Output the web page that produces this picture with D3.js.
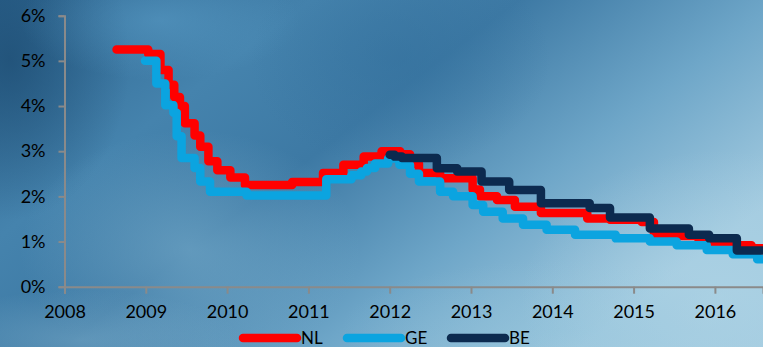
<!DOCTYPE html>
<html><head><meta charset="utf-8">
<script src="https://cdn.jsdelivr.net/npm/d3@7"></script>
<style>
html,body{margin:0;padding:0;background:#3f7aa4;}
svg{display:block;}
text{font-family:Lato,"Open Sans",sans-serif;}
</style></head>
<body>
<svg id="c" width="763" height="347"></svg>
<script>
// ---- data ----
const yearTicks = [2008, 2009, 2010, 2011, 2012, 2013, 2014, 2015, 2016];
const rateTicks = [0, 1, 2, 3, 4, 5, 6];
const seriesNames = ["NL", "GE", "BE"];
const seriesColors = ["#ff0000", "#0ba4e0", "#0c2a4f"];

const nlYears = [2008.64, 2009.03, 2009.18, 2009.28, 2009.35, 2009.42, 2009.48, 2009.6, 2009.67, 2009.77, 2009.88, 2010.04, 2010.22, 2010.8, 2011.18, 2011.43, 2011.68, 2011.9, 2012.13, 2012.25, 2012.36, 2012.62, 2013.02, 2013.11, 2013.32, 2013.54, 2013.86, 2014.43, 2014.71, 2015.1, 2015.25, 2015.55, 2015.8, 2016.2, 2016.45, 2016.7];
const nlRates = [5.25, 5.15, 4.8, 4.47, 4.2, 4.0, 3.62, 3.35, 3.1, 2.78, 2.58, 2.42, 2.25, 2.32, 2.52, 2.7, 2.88, 3.0, 2.93, 2.72, 2.52, 2.4, 2.15, 2.0, 1.92, 1.77, 1.63, 1.51, 1.48, 1.43, 1.15, 1.12, 0.98, 0.92, 0.85, 0.85];

const geYears = [2008.99, 2009.13, 2009.24, 2009.34, 2009.38, 2009.44, 2009.6, 2009.67, 2009.79, 2010.24, 2011.22, 2011.53, 2011.65, 2011.72, 2011.82, 2011.98, 2012.12, 2012.25, 2012.36, 2012.62, 2012.78, 2013.02, 2013.15, 2013.39, 2013.64, 2013.93, 2014.28, 2014.78, 2015.2, 2015.53, 2015.9, 2016.22, 2016.52, 2016.7];
const geRates = [5.0, 4.5, 4.02, 3.85, 3.33, 2.85, 2.63, 2.33, 2.1, 2.02, 2.38, 2.47, 2.55, 2.63, 2.73, 2.84, 2.7, 2.5, 2.33, 2.1, 2.0, 1.81, 1.66, 1.51, 1.37, 1.26, 1.15, 1.07, 1.0, 0.92, 0.81, 0.72, 0.61, 0.61];

const beYears = [2012.0, 2012.06, 2012.15, 2012.58, 2012.83, 2013.13, 2013.47, 2013.86, 2014.46, 2014.71, 2015.2, 2015.68, 2015.93, 2016.27, 2016.7];
const beRates = [2.92, 2.88, 2.85, 2.62, 2.55, 2.33, 2.14, 1.85, 1.74, 1.53, 1.29, 1.15, 1.07, 0.8, 0.8];

// ---- layout ----
const W = 763, H = 347;
const x0 = 64.5, yearPx = 81.3;
const x = d3.scaleLinear().domain([2008, 2008 + (W - x0) / yearPx]).range([x0, W]);
const y = d3.scaleLinear().domain([0, 6]).range([286.7, 15.7]);

const svg = d3.select("#c");
const defs = svg.append("defs");

// background
const lg = defs.append("linearGradient").attr("id", "bg").attr("x1", 0).attr("y1", 0).attr("x2", 1).attr("y2", 0.6);
[["0%", "#2d6590"], ["30%", "#4583ad"], ["50%", "#3d79a4"], ["75%", "#6ea6c8"], ["100%", "#a3cbe0"]].forEach(s => lg.append("stop").attr("offset", s[0]).attr("stop-color", s[1]));
svg.append("rect").attr("width", W).attr("height", H).attr("fill", "url(#bg)");

function blob(id, cx, cy, rx, ry, color, op) {
  const rg = defs.append("radialGradient").attr("id", id);
  rg.append("stop").attr("offset", "0%").attr("stop-color", color).attr("stop-opacity", op);
  rg.append("stop").attr("offset", "100%").attr("stop-color", color).attr("stop-opacity", 0);
  svg.append("ellipse").attr("cx", cx).attr("cy", cy).attr("rx", rx).attr("ry", ry).attr("fill", `url(#${id})`);
}
blob("b1", 10, 60, 120, 160, "#1d4c72", 0.75);
blob("b2", 190, 250, 170, 120, "#7fb3d0", 0.55);
blob("b3", 160, 20, 140, 60, "#5ea2cc", 0.5);
blob("b4", 400, 60, 150, 110, "#326f9c", 0.5);
blob("b5", 560, 330, 220, 70, "#8cbfd8", 0.5);
blob("b6", 720, 300, 200, 150, "#b0d5e6", 0.55);
blob("b7", 80, 340, 160, 50, "#7fb0cc", 0.5);

// axes
const axisColor = "#8a8a8a";
const gy = svg.append("g").attr("transform", `translate(${x0},0)`)
  .call(d3.axisLeft(y).tickValues(rateTicks).tickFormat(d => d + "%").tickSizeOuter(0).tickSize(6).tickPadding(13));
const gx = svg.append("g").attr("transform", `translate(0,${y(0)})`)
  .call(d3.axisBottom(x).tickValues(yearTicks).tickFormat(d3.format("d")).tickSizeOuter(0).tickSize(7).tickPadding(12));
[gx, gy].forEach(g => {
  g.selectAll("path,line").attr("stroke", axisColor).attr("stroke-width", 2);
  g.selectAll("text").attr("fill", "#000").style("font-size", "18px").style("font-family", "Lato, sans-serif");
});

// lines
const series = [
  { name: "NL", xs: nlYears, ys: nlRates },
  { name: "GE", xs: geYears, ys: geRates },
  { name: "BE", xs: beYears, ys: beRates }
];
const line = d3.line().x(d => x(d[0])).y(d => y(d[1])).curve(d3.curveStepAfter);
svg.append("clipPath").attr("id", "clip").append("rect").attr("x", 0).attr("y", 0).attr("width", W).attr("height", H);
series.forEach((s, i) => {
  const pts = s.xs.map((v, j) => [v, s.ys[j]]);
  svg.append("path").datum(pts).attr("d", line)
    .attr("fill", "none").attr("stroke", seriesColors[i]).attr("stroke-width", 8.5)
    .attr("stroke-linejoin", "round").attr("stroke-linecap", "round")
    .attr("clip-path", "url(#clip)");
});

// legend
const legX = [243, 347, 451];
const legY = 338;
seriesNames.forEach((n, i) => {
  svg.append("line").attr("x1", legX[i]).attr("x2", legX[i] + 54).attr("y1", legY).attr("y2", legY)
    .attr("stroke", seriesColors[i]).attr("stroke-width", 8.5).attr("stroke-linecap", "round");
  svg.append("text").attr("x", legX[i] + 58).attr("y", legY + 5.5).text(n)
    .attr("fill", "#000").style("font-size", "17px");
});
</script>
</body></html>
